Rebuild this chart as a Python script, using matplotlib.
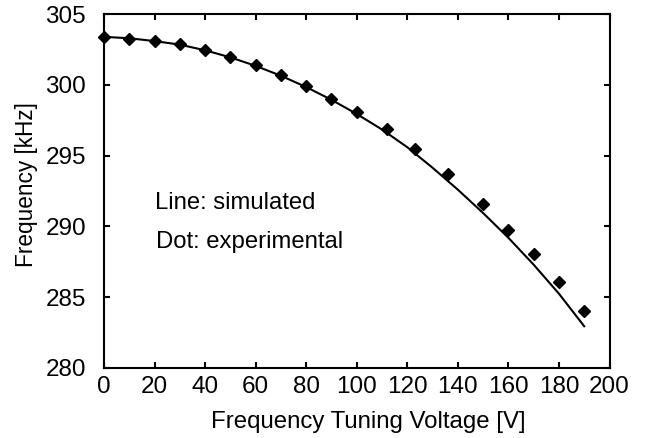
import matplotlib
matplotlib.use("Agg")
import matplotlib.pyplot as plt

# Simulated (line)
sim_voltage = [0, 10, 20, 30, 40, 50, 60, 70, 80, 90, 100, 110, 120, 130, 140, 150, 160, 170, 180, 190]
sim_freq = [303.4, 303.3, 303.1, 302.85, 302.45, 301.95, 301.35, 300.65, 299.85, 298.95,
            297.95, 296.85, 295.6, 294.15, 292.6, 290.95, 289.2, 287.3, 285.25, 282.95]

# Experimental (dots)
exp_voltage = [0, 10, 20, 30, 40, 50, 60, 70, 80, 90, 100, 112, 123, 136, 150, 160, 170, 180, 190]
exp_freq = [303.37, 303.27, 303.11, 302.87, 302.47, 302.0, 301.41, 300.73, 299.93, 299.01,
            298.06, 296.87, 295.46, 293.71, 291.57, 289.76, 288.04, 286.11, 284.04]

x_ticks = [0, 20, 40, 60, 80, 100, 120, 140, 160, 180, 200]
y_ticks = [280, 285, 290, 295, 300, 305]

plt.rcParams['font.family'] = ['Liberation Sans', 'DejaVu Sans']

W, H = 656, 438
fig = plt.figure(figsize=(W / 100, H / 100), dpi=100)
ax = fig.add_axes([104 / W, 1 - 368 / H, (609.5 - 104) / W, (368 - 14.2) / H])

ax.plot(sim_voltage, sim_freq, color='black', linewidth=1.5, zorder=2)
ax.plot(exp_voltage, exp_freq, linestyle='none', marker='D', markersize=6.6,
        color='black', clip_on=False, zorder=3)

ax.set_xlim(0, 200)
ax.set_ylim(280, 305)
ax.set_xticks(x_ticks)
ax.set_yticks(y_ticks)
ax.tick_params(direction='in', length=4, width=1.5, top=True, right=True, labelsize=17.5)
ax.tick_params(axis='x', pad=6)
ax.tick_params(axis='y', pad=13)
for s in ax.spines.values():
    s.set_linewidth(1.5)

fig.text(368.5 / W, 1 - 428 / H, 'Frequency Tuning Voltage [V]', fontsize=17.3,
         ha='center', va='baseline')
fig.text(27 / W, 1 - 185 / H, 'Frequency [kHz]', fontsize=16.3, rotation=90,
         ha='center', va='center')

fig.text(155 / W, 1 - 209.3 / H, 'Line: simulated', fontsize=17.2, ha='left', va='baseline')
fig.text(156 / W, 1 - 248 / H, 'Dot: experimental', fontsize=17.2, ha='left', va='baseline')

fig.savefig('out.png', dpi=100)
